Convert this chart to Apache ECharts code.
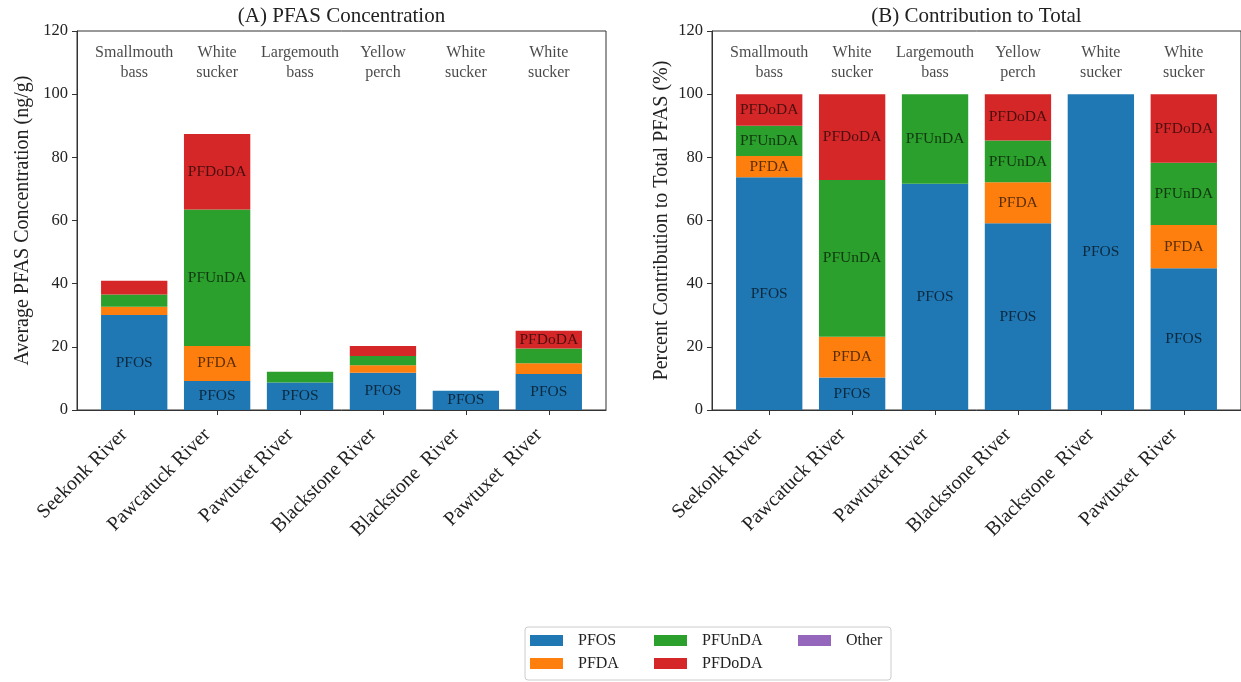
<!DOCTYPE html>
<html>
<head>
<meta charset="utf-8">
<script src="https://cdn.jsdelivr.net/npm/echarts@6/dist/echarts.min.js"></script>
<style>
  html, body { margin: 0; padding: 0; background: #fff; }
  #chart { width: 1241px; height: 682px; }
</style>
</head>
<body>
<div id="chart"></div>
<script>
// Sampling sites (x-axis tick labels) and fish species shown above each bar
const rivers = ['Seekonk River', 'Pawcatuck River', 'Pawtuxet River', 'Blackstone River', 'Blackstone  River', 'Pawtuxet  River'];
const species = ['Smallmouth\nbass', 'White\nsucker', 'Largemouth\nbass', 'Yellow\nperch', 'White\nsucker', 'White\nsucker'];
const compounds = ['PFOS', 'PFDA', 'PFUnDA', 'PFDoDA', 'Other'];

// (A) average concentration, ng/g
const concPFOS   = [30.1, 9.2, 8.7, 11.8, 6.1, 11.4];
const concPFDA   = [2.6, 11.1, 0, 2.4, 0, 3.4];
const concPFUnDA = [3.9, 43.2, 3.4, 2.9, 0, 4.7];
const concPFDoDA = [4.3, 23.9, 0, 3.2, 0, 5.6];
const concOther  = [0, 0, 0, 0, 0, 0];

// (B) percent contribution to total PFAS
const pctPFOS   = [73.7, 10.3, 71.6, 59.1, 100, 44.9];
const pctPFDA   = [6.7, 12.9, 0, 13.0, 0, 13.7];
const pctPFUnDA = [9.6, 49.6, 28.4, 13.2, 0, 19.7];
const pctPFDoDA = [10.0, 27.2, 0, 14.7, 0, 21.7];
const pctOther  = [0, 0, 0, 0, 0, 0];

const yTicks = [0, 20, 40, 60, 80, 100, 120];

const colors = ['#1f77b4', '#ff7f0e', '#2ca02c', '#d62728', '#9467bd'];
const FONT = 'Liberation Serif, Times New Roman, serif';

const concSeries = [concPFOS, concPFDA, concPFUnDA, concPFDoDA, concOther];
const pctSeries = [pctPFOS, pctPFDA, pctPFUnDA, pctPFDoDA, pctOther];

// panel layout
const gridW = 529, gridH = 379, gridTop = 31;
const panels = [{ left: 77, nameGap: 44 }, { left: 712, nameGap: 40 }];
const xMin = -0.69, xMax = 5.69;
const barW = 0.8 * gridW / (xMax - xMin);
const labelMin = 5;
const speciesY = 110;

const chart = echarts.init(document.getElementById('chart'), null, { renderer: 'canvas' });

const grids = panels.map(p => ({
  left: p.left, top: gridTop, width: gridW, height: gridH,
  show: true, borderColor: '#333', borderWidth: 1, backgroundColor: 'transparent',
  containLabel: false
}));

const siteIdx = rivers.map((r, i) => i);

const xAxes = panels.map((p, gi) => ({
  type: 'value', gridIndex: gi, min: xMin, max: xMax,
  splitLine: { show: false },
  axisLine: { show: true, onZero: false, lineStyle: { color: '#333', width: 1 } },
  axisTick: { show: true, length: 5, lineStyle: { color: '#333' }, customValues: siteIdx },
  axisLabel: {
    show: true, rotate: 45, margin: 12, padding: [0, 14, 0, 0],
    fontSize: 20, color: '#222', fontFamily: FONT,
    customValues: siteIdx,
    formatter: v => rivers[Math.round(v)]
  }
}));

const yNames = ['Average PFAS Concentration (ng/g)', 'Percent Contribution to Total PFAS (%)'];
const yAxes = panels.map((p, gi) => ({
  type: 'value', gridIndex: gi, min: yTicks[0], max: yTicks[yTicks.length - 1], interval: 20,
  name: yNames[gi], nameLocation: 'middle', nameRotate: 90, nameGap: p.nameGap,
  nameTextStyle: { fontSize: 20, color: '#222', fontFamily: FONT },
  splitLine: { show: false },
  axisLine: { show: true, onZero: false, lineStyle: { color: '#333', width: 1 } },
  axisTick: { show: true, length: 5, lineStyle: { color: '#333' } },
  axisLabel: { fontSize: 16.5, color: '#222', fontFamily: FONT, margin: 9 }
}));

const series = [];
[concSeries, pctSeries].forEach((set, gi) => {
  set.forEach((vals, ci) => {
    series.push({
      name: compounds[ci], type: 'bar', stack: 'panel' + gi,
      xAxisIndex: gi, yAxisIndex: gi, barWidth: barW,
      itemStyle: { color: colors[ci] },
      // value first so the stack accumulates on the y dimension
      encode: { x: 1, y: 0 },
      data: vals.map((v, i) => [v, i]),
      label: {
        show: true, position: 'inside', fontSize: 15.5, fontFamily: FONT,
        color: 'rgba(0,0,0,0.65)', textBorderWidth: 0,
        formatter: p => (p.value[0] >= labelMin ? compounds[ci] : '')
      },
      emphasis: { disabled: true }
    });
  });
  // species names along the top of each panel
  series.push({
    type: 'scatter', xAxisIndex: gi, yAxisIndex: gi, silent: true,
    symbolSize: 1, itemStyle: { color: 'rgba(0,0,0,0)' },
    data: species.map((s, i) => [i, speciesY]),
    label: {
      show: true, position: 'inside', fontSize: 16, lineHeight: 20, color: '#1a1a1a', fontFamily: FONT,
      formatter: p => species[p.dataIndex]
    }
  });
});

const titles = ['(A) PFAS Concentration', '(B) Contribution to Total'];

// legend columns: fixed text widths so entries line up in three columns
const legendCol = { PFOS: 'c1', PFDA: 'c1', PFUnDA: 'c2', PFDoDA: 'c2', Other: 'c3' };
const legendText = { fontSize: 16, fontFamily: FONT, color: '#222', lineHeight: 21, height: 21 };

chart.setOption({
  animation: false,
  backgroundColor: '#fff',
  textStyle: { fontFamily: FONT },
  graphic: titles.map((t, gi) => ({
    type: 'text', x: panels[gi].left + gridW / 2, y: 16,
    style: { text: t, fontSize: 21, fontFamily: FONT, fill: '#222', textAlign: 'center', textVerticalAlign: 'middle' }
  })),
  grid: grids,
  xAxis: xAxes,
  yAxis: yAxes,
  legend: {
    left: 525, top: 627, width: 360,
    orient: 'horizontal',
    padding: [3, 8, 6, 5],
    itemGap: 2, itemWidth: 33, itemHeight: 11,
    borderColor: '#ccc', borderWidth: 1, borderRadius: 3, backgroundColor: '#fff',
    icon: 'rect',
    data: ['PFOS', 'PFUnDA', 'Other', 'PFDA', 'PFDoDA'],
    formatter: n => '{' + legendCol[n] + '|' + n + '}',
    textStyle: {
      fontSize: 16, color: '#222', fontFamily: FONT, padding: [0, 0, 0, 10],
      lineHeight: 21, height: 21,
      rich: {
        c1: Object.assign({ width: 74 }, legendText),
        c2: Object.assign({ width: 94 }, legendText),
        c3: Object.assign({ width: 37 }, legendText)
      }
    }
  },
  series: series
});
</script>
</body>
</html>
